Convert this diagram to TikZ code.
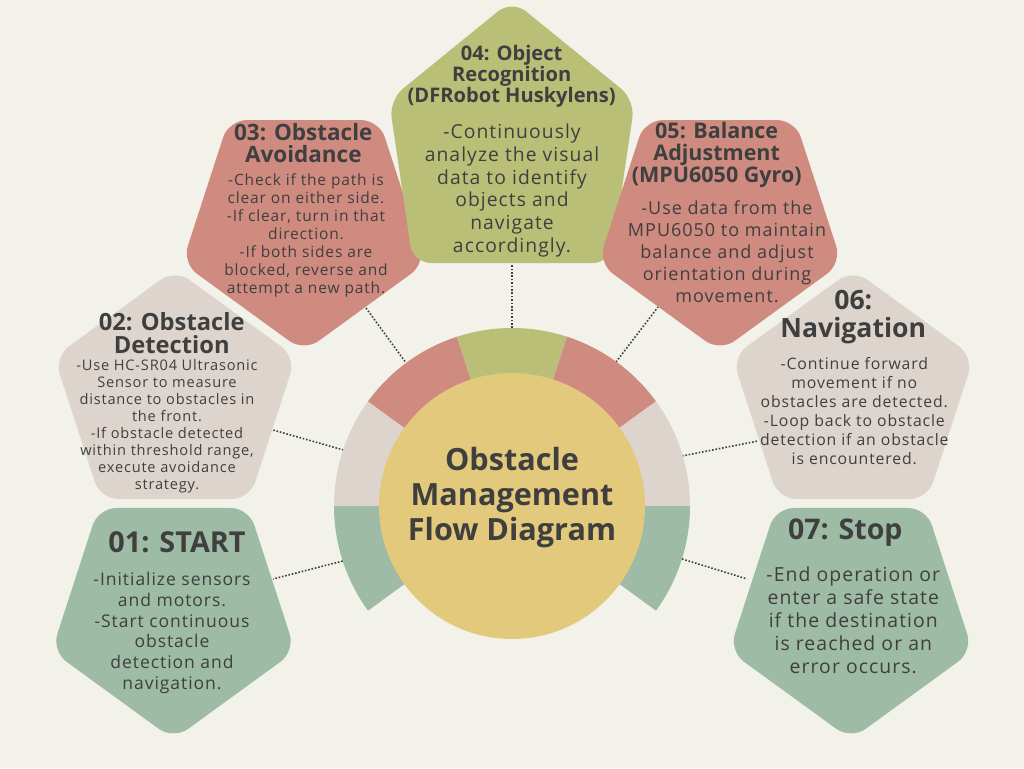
\documentclass[tikz,border=0pt]{standalone}
\usepackage{fontspec}
\setmainfont{Open Sans}
\newfontfamily\bodyfont{Open Sans}[LetterSpace=5.5]
\newcommand\headfont{\rmfamily\bfseries}

\definecolor{bg}{HTML}{F2F2EB}
\definecolor{sage}{HTML}{9EBBA6}
\definecolor{sand}{HTML}{DDD5CD}
\definecolor{clay}{HTML}{CF8B7F}
\definecolor{moss}{HTML}{BABF78}
\definecolor{mustard}{HTML}{E3C97B}
\definecolor{ink}{HTML}{3F3F3F}

% rounded pentagons: point down / point up, centre (#2,#3), circumradius #4
\newcommand\pentdown[4]{\fill[#1,rounded corners=18pt,shift={(#2,#3)}]
  (90:#4) -- (162:#4) -- (234:#4) -- (306:#4) -- (18:#4) -- cycle;}
\newcommand\pentup[4]{\fill[#1,rounded corners=18pt,shift={(#2,#3)}]
  (270:#4) -- (342:#4) -- (54:#4) -- (126:#4) -- (198:#4) -- cycle;}
% ring sector between angles #2 and #3
\newcommand\ringpart[3]{\fill[#1] (512,506) -- ++(#2:178) arc[start angle=#2, end angle=#3, radius=178] -- cycle;}

\tikzset{
  txt/.style={text=ink, align=center, inner sep=0pt},
  dotline/.style={draw=ink, line width=1.6pt, dash pattern=on 1.6pt off 1.8pt},
}

\begin{document}
\begin{tikzpicture}[x=1pt,y=-1pt]
\fill[bg] (0,0) rectangle (1024,768);
\useasboundingbox (0,0) rectangle (1024,768);

% connectors from the ring to the steps
\coordinate (r1) at (342.7,561);  \coordinate (p1) at (273,579);
\coordinate (r2) at (343.5,450);  \coordinate (p2) at (273,430);
\coordinate (r3) at (405,361.5);  \coordinate (p3) at (366,308);
\coordinate (r4) at (512,328);    \coordinate (p4) at (512,265);
\coordinate (r5) at (616,362);    \coordinate (p5) at (658,307);
\coordinate (r6) at (682,456);    \coordinate (p6) at (758,441);
\coordinate (r7) at (682,559);    \coordinate (p7) at (747,579);
\foreach \i in {1,...,7} {\draw[dotline] (r\i) -- (p\i);}

% the seven steps
\pentdown{sage}{173.5}{611.5}{128}
\pentup{sand}{175}{396.3}{127}
\pentdown{clay}{304}{223.6}{128}
\fill[moss,rounded corners=18pt] (512,0) -- (635,100) -- (611,263) -- (413,263) -- (389,100) -- cycle;
\pentdown{clay}{720}{223.6}{128}
\pentup{sand}{853}{396.3}{127}
\pentdown{sage}{851}{611.5}{128}

% ring and hub
\ringpart{sage}{144}{180}
\ringpart{sand}{180}{216}
\ringpart{clay}{216}{252}
\ringpart{moss}{252}{288}
\ringpart{clay}{288}{324}
\ringpart{sand}{324}{360}
\ringpart{sage}{0}{36}
\fill[mustard] (512,506) circle[radius=133];

\node[txt, font=\headfont\fontsize{30.6}{35.3}\selectfont] (hub) at (512,497.5)
  {Obstacle\\Management\\Flow Diagram};

% step 01
\node[txt, font=\headfont\fontsize{28.8}{30}\selectfont] (t1) at (177,542) {01: START};
\node[txt, font=\bodyfont\fontsize{17.5}{20.7}\selectfont] (b1) at (172,633)
  {-Initialize sensors\\and motors.\\-Start continuous\\obstacle\\detection and\\navigation.};

% step 02
\node[txt, font=\headfont\fontsize{23.7}{23}\selectfont] (t2) at (171.7,333.5)
  {02: Obstacle\\Detection};
\node[txt, font=\bodyfont\fontsize{14.6}{17}\selectfont] (b2) at (167,426.5)
  {-Use HC-SR04 Ultrasonic\\Sensor to measure\\distance to obstacles in\\the front.\\-If obstacle detected\\within threshold range,\\execute avoidance\\strategy.};

% step 03
\node[txt, font=\headfont\fontsize{22.5}{21.6}\selectfont] (t3) at (303.3,143)
  {03: Obstacle\\Avoidance};
\node[txt, font=\bodyfont\fontsize{15.5}{18.1}\selectfont] (b3) at (306,235.5)
  {-Check if the path is\\clear on either side.\\-If clear, turn in that\\direction.\\-If both sides are\\blocked, reverse and\\attempt a new path.};

% step 04
\node[txt, font=\headfont\fontsize{20.1}{21.2}\selectfont] (t4) at (511.7,76.5)
  {04: Object\\Recognition\\(DFRobot Huskylens)};
\node[txt, font=\bodyfont\fontsize{19.3}{22.9}\selectfont] (b4) at (512,190.5)
  {-Continuously\\analyze the visual\\data to identify\\objects and\\navigate\\accordingly.};

% step 05
\node[txt, font=\headfont\fontsize{21.5}{21.7}\selectfont] (t5) at (716.7,155)
  {05: Balance\\Adjustment\\(MPU6050 Gyro)};
\node[txt, font=\bodyfont\fontsize{18}{22.1}\selectfont] (b5) at (727,251.5)
  {-Use data from the\\MPU6050 to maintain\\balance and adjust\\orientation during\\movement.};

% step 06
\node[txt, font=\headfont\fontsize{26.6}{27.4}\selectfont] (t6) at (853.3,317)
  {06:\\Navigation};
\node[txt, font=\bodyfont\fontsize{15.8}{19}\selectfont] (b6) at (854.3,411)
  {-Continue forward\\movement if no\\obstacles are detected.\\-Loop back to obstacle\\detection if an obstacle\\is encountered.};

% step 07
\node[txt, font=\headfont\fontsize{28.5}{30}\selectfont] (t7) at (845.3,533) {07: Stop};
\node[txt, font=\bodyfont\fontsize{19.4}{23}\selectfont] (b7) at (853.3,620)
  {-End operation or\\enter a safe state\\if the destination\\is reached or an\\error occurs.};
\end{tikzpicture}
\end{document}
